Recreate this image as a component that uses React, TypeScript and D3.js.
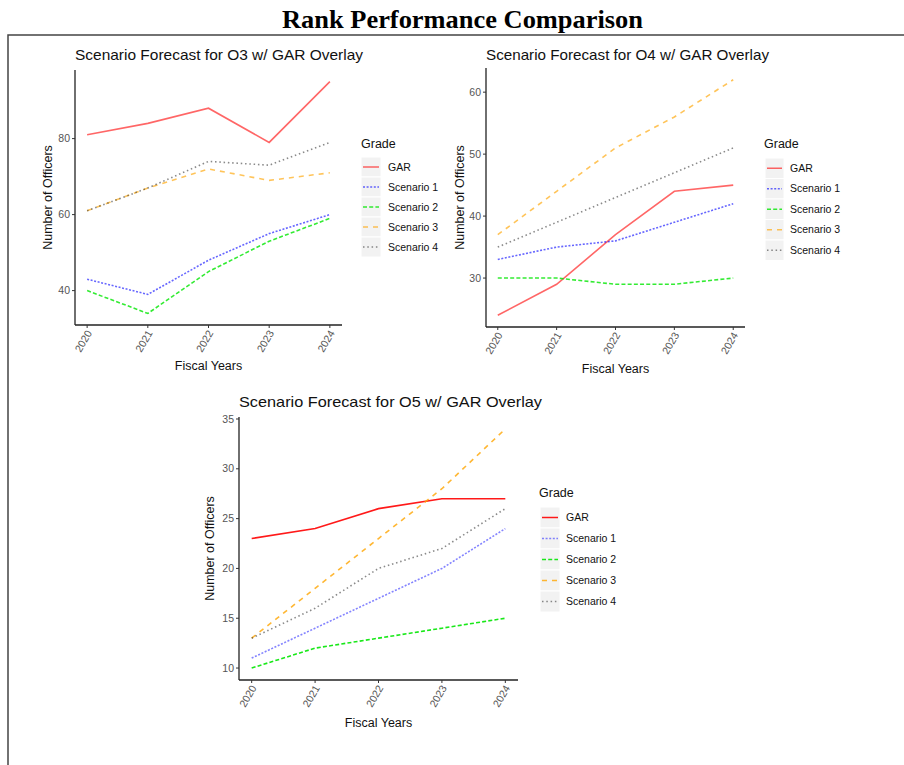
import React from "react";
import * as d3 from "d3";

const years = [2020, 2021, 2022, 2023, 2024];
const seriesNames = ["GAR", "Scenario 1", "Scenario 2", "Scenario 3", "Scenario 4"];

const o3GAR = [81, 84, 88, 79, 95];
const o3S1 = [43, 39, 48, 55, 60];
const o3S2 = [40, 34, 45, 53, 59];
const o3S3 = [61, 67, 72, 69, 71];
const o3S4 = [61, 67, 74, 73, 79];
const o3Ticks = [40, 60, 80];

const o4GAR = [24, 29, 37, 44, 45];
const o4S1 = [33, 35, 36, 39, 42];
const o4S2 = [30, 30, 29, 29, 30];
const o4S3 = [37, 44, 51, 56, 62];
const o4S4 = [35, 39, 43, 47, 51];
const o4Ticks = [30, 40, 50, 60];

const o5GAR = [23, 24, 26, 27, 27];
const o5S1 = [11, 14, 17, 20, 24];
const o5S2 = [10, 12, 13, 14, 15];
const o5S3 = [13, 18, 23, 28, 34];
const o5S4 = [13, 16, 20, 22, 26];
const o5Ticks = [10, 15, 20, 25, 30, 35];

const mainTitle = "Rank Performance Comparison";
const panelTitles = [
  "Scenario Forecast for O3 w/ GAR Overlay",
  "Scenario Forecast for O4 w/ GAR Overlay",
  "Scenario Forecast for O5 w/ GAR Overlay",
];

const styles = [
  { color: "rgba(255,0,0,0.6)", dash: "" },
  { color: "rgba(0,0,255,0.6)", dash: "2,1.6" },
  { color: "rgba(0,230,0,0.8)", dash: "4,2.2" },
  { color: "rgba(255,165,0,0.65)", dash: "5,5" },
  { color: "rgba(60,60,60,0.6)", dash: "1.5,2.8" },
];
const stylesBottom = [
  { color: "rgba(255,0,0,0.9)", dash: "" },
  { color: "rgba(80,80,255,0.7)", dash: "2,1.6" },
  { color: "rgba(0,230,0,0.9)", dash: "4,2.2" },
  { color: "rgba(255,165,0,0.8)", dash: "5,5" },
  { color: "rgba(60,60,60,0.6)", dash: "1.5,2.8" },
];

const SANS = "'Liberation Sans', Arial, sans-serif";

type PanelProps = {
  title: string;
  titleLen: number;
  data: number[][];
  ticks: number[];
  box: { l: number; r: number; t: number; b: number };
  titleY: number;
  yTitleX: number;
  xTitleY: number;
  legend: { x: number; titleY: number; keyX: number; keyW: number; keyY: number; keyH: number; labelX: number };
  st: { color: string; dash: string }[];
};

function Panel({ title, titleLen, data, ticks, box, titleY, yTitleX, xTitleY, legend, st }: PanelProps) {
  const all = data.flat();
  const mn = d3.min(all)!;
  const mx = d3.max(all)!;
  const pad = (mx - mn) * 0.05;
  const y = d3.scaleLinear().domain([mn - pad, mx + pad]).range([box.b, box.t]);
  const xpad = (years[years.length - 1] - years[0]) * 0.05;
  const x = d3.scaleLinear().domain([years[0] - xpad, years[years.length - 1] + xpad]).range([box.l, box.r]);
  const line = d3.line<number>().x((_, i) => x(years[i])).y((v) => y(v));
  return (
    <g>
      <text x={box.l} y={titleY} fontFamily={SANS} fontSize={14.5} fill="#111" textLength={titleLen} lengthAdjust="spacingAndGlyphs">{title}</text>
      {data.map((s, i) => (
        <path key={i} d={line(s)!} fill="none" stroke={st[i].color} strokeWidth={1.6} strokeDasharray={st[i].dash} />
      ))}
      <line x1={box.l} x2={box.l} y1={box.t} y2={box.b} stroke="#222" strokeWidth={1.3} />
      <line x1={box.l} x2={box.r} y1={box.b} y2={box.b} stroke="#222" strokeWidth={1.3} />
      {ticks.map((t) => (
        <g key={t}>
          <line x1={box.l - 3} x2={box.l} y1={y(t)} y2={y(t)} stroke="#333" />
          <text x={box.l - 5} y={y(t)} dy="0.35em" textAnchor="end" fontFamily={SANS} fontSize={10.5} fill="#555">{t}</text>
        </g>
      ))}
      {years.map((yr) => (
        <g key={yr}>
          <line x1={x(yr)} x2={x(yr)} y1={box.b} y2={box.b + 3} stroke="#333" />
          <text transform={`translate(${x(yr) + 2},${box.b + 6}) rotate(-60)`} dy="0.35em" textAnchor="end" fontFamily={SANS} fontSize={10.5} fill="#555">{yr}</text>
        </g>
      ))}
      <text x={(box.l + box.r) / 2} y={xTitleY} textAnchor="middle" fontFamily={SANS} fontSize={12.5} fill="#111">Fiscal Years</text>
      <text transform={`translate(${yTitleX},${(box.t + box.b) / 2}) rotate(-90)`} dy="0.35em" textAnchor="middle" fontFamily={SANS} fontSize={12.5} fill="#111">Number of Officers</text>
      <text x={legend.x} y={legend.titleY} fontFamily={SANS} fontSize={12.5} fill="#111">Grade</text>
      {seriesNames.map((n, i) => {
        const ky = legend.keyY + i * legend.keyH;
        return (
          <g key={n}>
            <rect x={legend.keyX} y={ky} width={legend.keyW} height={legend.keyH} fill="#f2f2f2" stroke="#fff" strokeWidth={1} />
            <line x1={legend.keyX + 2} x2={legend.keyX + legend.keyW - 2} y1={ky + legend.keyH / 2} y2={ky + legend.keyH / 2} stroke={st[i].color} strokeWidth={1.5} strokeDasharray={st[i].dash} />
            <text x={legend.labelX} y={ky + legend.keyH / 2} dy="0.35em" fontFamily={SANS} fontSize={10.5} fill="#111">{n}</text>
          </g>
        );
      })}
    </g>
  );
}

export default function App() {
  return (
    <svg width={904} height={765} style={{ position: "absolute", left: 0, top: 0, background: "#fff" }}>
      <rect x={0} y={0} width={904} height={765} fill="#fff" />
      <text x={282} y={28} fontFamily="'Liberation Serif', 'Times New Roman', serif" fontWeight="bold" fontSize={26} fill="#000" textLength={361} lengthAdjust="spacingAndGlyphs">{mainTitle}</text>
      <path d="M8,770 L8,35 L910,35" fill="none" stroke="#444" strokeWidth={1.5} />
      <Panel
        title={panelTitles[0]}
        titleLen={288}
        data={[o3GAR, o3S1, o3S2, o3S3, o3S4]}
        ticks={o3Ticks}
        box={{ l: 75, r: 342, t: 70, b: 325 }}
        titleY={60}
        yTitleX={48}
        xTitleY={370}
        legend={{ x: 361, titleY: 148, keyX: 361, keyW: 20, keyY: 157, keyH: 20, labelX: 388 }}
        st={styles}
      />
      <Panel
        title={panelTitles[1]}
        titleLen={283}
        data={[o4GAR, o4S1, o4S2, o4S3, o4S4]}
        ticks={o4Ticks}
        box={{ l: 486, r: 745, t: 68, b: 327 }}
        titleY={60}
        yTitleX={460}
        xTitleY={373}
        legend={{ x: 764, titleY: 148, keyX: 765, keyW: 19, keyY: 158, keyH: 20.5, labelX: 790 }}
        st={styles}
      />
      <Panel
        title={panelTitles[2]}
        titleLen={303}
        data={[o5GAR, o5S1, o5S2, o5S3, o5S4]}
        ticks={o5Ticks}
        box={{ l: 239, r: 518, t: 417, b: 680 }}
        titleY={407}
        yTitleX={210}
        xTitleY={727}
        legend={{ x: 539, titleY: 497, keyX: 540, keyW: 20, keyY: 507, keyH: 21, labelX: 566 }}
        st={stylesBottom}
      />
    </svg>
  );
}
